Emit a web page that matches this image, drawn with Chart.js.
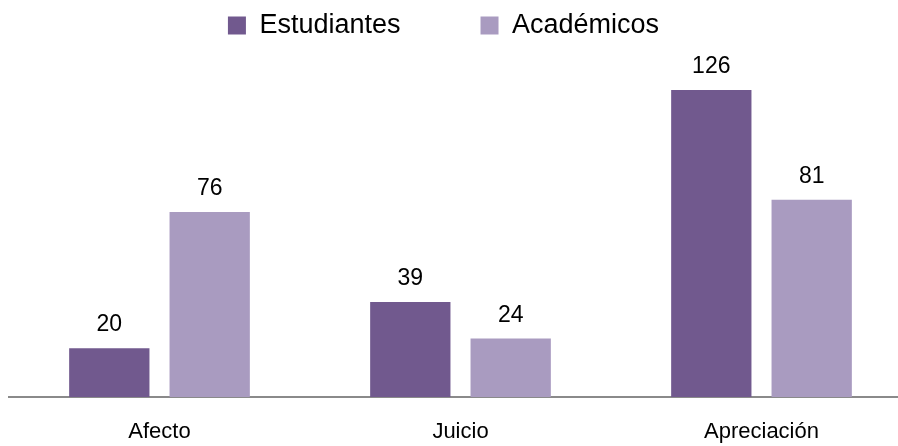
<!DOCTYPE html>
<html>
<head>
<meta charset="utf-8">
<script src="https://cdn.jsdelivr.net/npm/chart.js@4.4.0/dist/chart.umd.min.js"></script>
<style>
  html, body { margin: 0; padding: 0; background: #fff; }
  #wrap { width: 898px; height: 446px; overflow: hidden; position: relative; }
  #chart { position: absolute; left: 0; top: 0; }
</style>
</head>
<body>
<div id="wrap">
  <canvas id="chart" width="912" height="446"></canvas>
</div>
<script>
const categories = ['Afecto', 'Juicio', 'Apreciación']
const estudiantes = [20, 39, 126]
const academicos = [76, 24, 81]
const seriesNames = ['Estudiantes', 'Académicos']

const FONT = "'Liberation Sans', Arial, sans-serif"
const LEGEND_GAP = 80

// value labels above each bar
const barValues = {
    id: 'barValues',
    afterDatasetsDraw(chart) {
        const ctx = chart.ctx
        ctx.save()
        ctx.font = '23px ' + FONT
        ctx.fillStyle = '#000'
        ctx.textAlign = 'center'
        ctx.textBaseline = 'alphabetic'
        chart.data.datasets.forEach((ds, i) => {
            chart.getDatasetMeta(i).data.forEach((bar, j) => {
                ctx.fillText(ds.data[j], bar.x, bar.y - 17)
            })
        })
        ctx.restore()
    }
}

// the legend padding is only wanted between the items, not above/below them,
// so keep its box short and pull it up/left after layout
const legendTweak = {
    id: 'legendTweak',
    beforeInit(chart) {
        const lg = chart.legend
        const fit = lg.fit.bind(lg)
        lg.fit = function () {
            fit()
            this.height = 52
        }
    },
    afterLayout(chart) {
        const lg = chart.legend
        lg.top = 12 - LEGEND_GAP
        lg.bottom = 56
        lg.left -= 17
        lg.right -= 17
    }
}

new Chart(document.getElementById('chart'), {
    type: 'bar',
    data: {
        labels: categories,
        datasets: [
            { label: seriesNames[0], data: estudiantes, backgroundColor: '#71598e' },
            { label: seriesNames[1], data: academicos, backgroundColor: '#a99bc0' }
        ]
    },
    options: {
        responsive: false,
        animation: false,
        layout: { padding: { left: 9, right: 0, top: 4, bottom: 0 } },
        categoryPercentage: 0.667,
        barPercentage: 0.8,
        plugins: {
            legend: {
                position: 'top',
                labels: {
                    boxWidth: 18,
                    boxHeight: 18,
                    padding: LEGEND_GAP,
                    color: '#000',
                    font: { family: FONT, size: 27 }
                }
            },
            tooltip: { enabled: false }
        },
        scales: {
            x: {
                grid: { display: false, drawTicks: false },
                border: { display: true, color: '#8a8a8a', width: 2 },
                ticks: { color: '#000', padding: 22, font: { family: FONT, size: 22 } },
                afterFit(scale) { scale.height = 49 }
            },
            y: {
                display: false,
                min: 0,
                max: 140
            }
        }
    },
    plugins: [barValues, legendTweak]
})
</script>
</body>
</html>
